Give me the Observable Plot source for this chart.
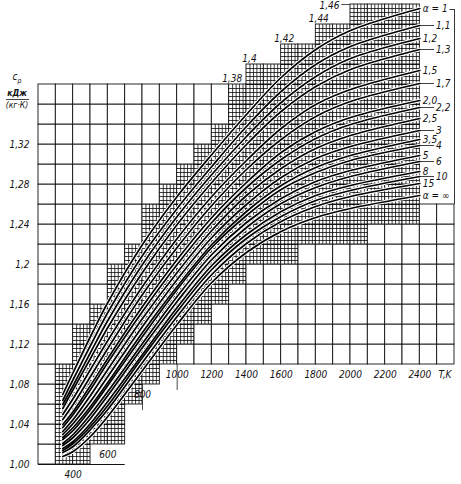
<!DOCTYPE html>
<html>
<head>
<meta charset="utf-8">
<script src="https://cdn.jsdelivr.net/npm/d3@7"></script>
<script src="https://cdn.jsdelivr.net/npm/@observablehq/plot@0.6"></script>
<style>
html,body{margin:0;padding:0;background:#fff;}
#chart svg{display:block;}
</style>
</head>
<body>
<div id="chart"></div>
<script>
// ---------- data ----------
const temps = [340, 400, 500, 600, 800, 1000, 1200, 1400, 1600, 1800, 2000, 2400];

const alphaLabels = ["α = 1","1,1","1,2","1,3","1,5","1,7","2,0","2,2","2,5","3","3,5","4","5","6","8","10","15","α = ∞"];

const cpAlpha1   = [1.070, 1.092, 1.128, 1.162, 1.220, 1.268, 1.310, 1.350, 1.387, 1.415, 1.434, 1.456];
const cpAlpha1_1 = [1.064, 1.085, 1.119, 1.152, 1.209, 1.256, 1.298, 1.338, 1.373, 1.400, 1.418, 1.439];
const cpAlpha1_2 = [1.060, 1.079, 1.112, 1.144, 1.200, 1.248, 1.290, 1.328, 1.362, 1.388, 1.406, 1.426];
const cpAlpha1_3 = [1.056, 1.075, 1.106, 1.137, 1.192, 1.240, 1.282, 1.320, 1.353, 1.378, 1.395, 1.415];
const cpAlpha1_5 = [1.050, 1.066, 1.095, 1.124, 1.178, 1.226, 1.268, 1.304, 1.336, 1.360, 1.375, 1.394];
const cpAlpha1_7 = [1.045, 1.060, 1.088, 1.116, 1.170, 1.217, 1.259, 1.295, 1.325, 1.348, 1.363, 1.381];
const cpAlpha2_0 = [1.040, 1.053, 1.079, 1.106, 1.158, 1.205, 1.247, 1.282, 1.312, 1.333, 1.347, 1.364];
const cpAlpha2_2 = [1.037, 1.050, 1.075, 1.102, 1.153, 1.200, 1.242, 1.277, 1.305, 1.326, 1.340, 1.357];
const cpAlpha2_5 = [1.033, 1.045, 1.069, 1.095, 1.146, 1.192, 1.234, 1.269, 1.296, 1.316, 1.329, 1.346];
const cpAlpha3   = [1.030, 1.041, 1.063, 1.088, 1.138, 1.185, 1.227, 1.260, 1.287, 1.306, 1.318, 1.334];
const cpAlpha3_5 = [1.027, 1.037, 1.058, 1.082, 1.132, 1.178, 1.220, 1.253, 1.279, 1.297, 1.309, 1.325];
const cpAlpha4   = [1.025, 1.034, 1.055, 1.079, 1.128, 1.175, 1.217, 1.249, 1.275, 1.292, 1.304, 1.319];
const cpAlpha5   = [1.021, 1.030, 1.050, 1.073, 1.121, 1.168, 1.210, 1.242, 1.266, 1.283, 1.294, 1.309];
const cpAlpha6   = [1.019, 1.027, 1.046, 1.069, 1.117, 1.163, 1.205, 1.237, 1.261, 1.277, 1.288, 1.303];
const cpAlpha8   = [1.016, 1.023, 1.041, 1.063, 1.110, 1.157, 1.199, 1.230, 1.253, 1.269, 1.279, 1.293];
const cpAlpha10  = [1.014, 1.021, 1.038, 1.059, 1.107, 1.153, 1.195, 1.226, 1.248, 1.264, 1.274, 1.288];
const cpAlpha15  = [1.012, 1.018, 1.035, 1.055, 1.102, 1.148, 1.190, 1.221, 1.243, 1.258, 1.268, 1.281];
const cpAlphaInf = [1.008, 1.013, 1.028, 1.048, 1.094, 1.140, 1.182, 1.212, 1.233, 1.247, 1.256, 1.269];

const cpSeries = [cpAlpha1, cpAlpha1_1, cpAlpha1_2, cpAlpha1_3, cpAlpha1_5, cpAlpha1_7, cpAlpha2_0, cpAlpha2_2,
  cpAlpha2_5, cpAlpha3, cpAlpha3_5, cpAlpha4, cpAlpha5, cpAlpha6, cpAlpha8, cpAlpha10, cpAlpha15, cpAlphaInf];

// main grid: 100 K columns, extent in cp
const gridT0 = [200,300,400,500,600,700,800,900,1000,1100,1200,1300,1400,1500,1600,1700,1800,1900,2000,2100,2200,2300,2400,2500];
const gridLo = [1.00,1.00,1.00,1.02,1.02,1.06,1.08,1.10,1.10,1.10,1.10,1.10,1.10,1.10,1.10,1.10,1.10,1.10,1.10,1.10,1.10,1.10,1.10,1.10];
const gridHi = [1.38,1.38,1.38,1.38,1.38,1.38,1.38,1.38,1.38,1.38,1.38,1.38,1.40,1.40,1.42,1.42,1.44,1.44,1.46,1.46,1.46,1.46,1.26,1.26];

// fine-meshed band
const hatchT0 = [300,400,500,600,700,800,900,1000,1100,1200,1300,1400,1500,1600,1700,1800,1900,2000,2100,2200,2300];
const hatchLo = [1.00,1.00,1.02,1.02,1.06,1.08,1.10,1.12,1.14,1.16,1.18,1.20,1.20,1.20,1.22,1.22,1.22,1.22,1.24,1.24,1.24];
const hatchHi = [1.10,1.14,1.16,1.20,1.22,1.26,1.28,1.30,1.32,1.34,1.38,1.40,1.40,1.42,1.42,1.44,1.44,1.46,1.46,1.46,1.46];

const yTickValues = [1.00, 1.04, 1.08, 1.12, 1.16, 1.20, 1.24, 1.28, 1.32];
const yTickLabels = ["1,00","1,04","1,08","1,12","1,16","1,2","1,24","1,28","1,32"];
const topTickValues = [1.38, 1.40, 1.42, 1.44, 1.46];
const topTickLabels = ["1,38","1,4","1,42","1,44","1,46"];
const xTickValues = [400, 600, 800, 1000, 1200, 1400, 1600, 1800, 2000, 2200, 2400];
const xTickLabels = ["400","600","800","1000","1200","1400","1600","1800","2000","2200","2400"];

// ---------- derived tables ----------
const FONT = "'DejaVu Sans Condensed','DejaVu Sans',sans-serif";
const EPS = 1e-9;
const r2 = v => Math.round(v * 1000) / 1000;

const cells = [];
gridT0.forEach((t, i) => {
  const j = hatchT0.indexOf(t);
  for (let c = gridLo[i]; c < gridHi[i] - EPS; c = r2(c + 0.02)) {
    const y1 = r2(c), y2 = r2(c + 0.02);
    const hatched = j >= 0 && y1 >= hatchLo[j] - EPS && y2 <= hatchHi[j] + EPS;
    cells.push({x1: t, x2: t + 100, y1, y2, hatched});
  }
});

const meshV = [], meshH = [];
hatchT0.forEach((t, j) => {
  const lo = hatchLo[j], hi = hatchHi[j];
  for (let k = 1; k < 5; k++) meshV.push({x: t + k * 20, y1: lo, y2: hi});
  const n = Math.round((hi - lo) / 0.004);
  for (let k = 1; k < n; k++) meshH.push({y: lo + k * 0.004, x1: t, x2: t + 100});
});

const curveRows = [];
cpSeries.forEach((vals, i) => vals.forEach((cp, k) => curveRows.push({alpha: alphaLabels[i], T: temps[k], cp})));

const lastT = temps[temps.length - 1];
const labelRows = cpSeries.map((vals, i) => ({text: alphaLabels[i], cp: vals[vals.length - 1], off: i % 2 === 1 && i < cpSeries.length - 1}));
const offLabels = labelRows.filter(d => d.off);
const onLabels = labelRows.filter(d => !d.off);

const loAt = t => gridLo[gridT0.indexOf(t)];
const xTicks = xTickValues.map((v, i) => ({T: v, cp: loAt(v), text: xTickLabels[i]}));
const stepT = v => hatchT0[hatchHi.findIndex(h => h >= v - EPS)];
const topTicks = topTickValues.map((v, i) => ({cp: v, T: stepT(v), text: topTickLabels[i], i}));

const rightT = gridT0[gridT0.length - 1] + 100;
const stripLo = gridHi[gridHi.length - 1];
const stripHi = d3.max(hatchHi);

const textStyle = {fontFamily: FONT, fontStyle: "italic", fontSize: 10, fill: "#111"};

const chart = Plot.plot({
  width: 461, height: 484,
  marginLeft: 38, marginRight: 7, marginTop: 4, marginBottom: 20,
  x: {domain: [200, 2600], axis: null},
  y: {domain: [1.00, 1.46], axis: null},
  style: {background: "white", overflow: "visible"},
  marks: [
    Plot.rect(cells, {x1: "x1", x2: "x2", y1: "y1", y2: "y2", fill: "white", stroke: "#111", strokeWidth: 0.9}),
    Plot.ruleX(meshV, {x: "x", y1: "y1", y2: "y2", stroke: "#000", strokeWidth: 0.75}),
    Plot.ruleY(meshH, {y: "y", x1: "x1", x2: "x2", stroke: "#000", strokeWidth: 0.75}),
    // bottom axis line of the left part
    Plot.ruleY([1.00], {x1: 200, x2: 700, stroke: "#111", strokeWidth: 1.1}),
    // tick extensions below the grid at 800 and 1000
    Plot.ruleX([800, 1000], {x: d => d, y1: d => loAt(d) - 0.026, y2: d => loAt(d), stroke: "#222", strokeWidth: 0.8}),
    // right border of the label strip
    Plot.ruleX([rightT], {y1: stripLo, y2: stripHi - 0.005, stroke: "#222", strokeWidth: 0.9}),
    Plot.ruleY([stripHi - 0.005], {x1: rightT - 25, x2: rightT, stroke: "#222", strokeWidth: 0.9}),
    // curves
    Plot.line(curveRows, {x: "T", y: "cp", z: "alpha", curve: "catmull-rom", stroke: "white", strokeWidth: 3.6}),
    Plot.line(curveRows, {x: "T", y: "cp", z: "alpha", curve: "catmull-rom", stroke: "#000", strokeWidth: 1.7}),
    // leader lines
    Plot.link(offLabels, {x1: lastT, x2: lastT + 82, y1: "cp", y2: "cp", stroke: "#111", strokeWidth: 0.8}),
    // curve labels
    Plot.text(onLabels, {x: lastT, y: "cp", text: "text", textAnchor: "start", dx: 3, ...textStyle}),
    Plot.text(offLabels, {x: lastT + 82, y: "cp", text: "text", textAnchor: "start", dx: 2, ...textStyle}),
    // y tick labels
    Plot.text(yTickValues, {x: 200, y: d => d, text: (d, i) => yTickLabels[i], textAnchor: "end", dx: -9, ...textStyle}),
    // labels along the top staircase
    Plot.text(topTicks.filter(d => d.i < 4), {x: "T", y: "cp", text: "text", textAnchor: "middle", dx: 3, dy: -6, ...textStyle}),
    Plot.text(topTicks.filter(d => d.i === 4), {x: "T", y: "cp", text: "text", textAnchor: "end", dx: -11, dy: 1, ...textStyle}),
    Plot.ruleY(topTicks.filter(d => d.i === 4), {y: "cp", x1: d => d.T - 50, x2: "T", stroke: "#222", strokeWidth: 0.8}),
    // x tick labels
    Plot.text(xTicks, {x: "T", y: "cp", text: "text", textAnchor: "middle", dy: 10, ...textStyle}),
    Plot.text(["T,K"], {x: rightT, y: 1.10, text: d => d, textAnchor: "end", dx: -3, dy: 10, ...textStyle})
  ]
});

document.getElementById("chart").appendChild(chart);

// y-axis title
const g = d3.select(chart).append("g")
  .attr("font-family", FONT).attr("font-style", "italic").attr("fill", "#111").attr("text-anchor", "middle");
const t1 = g.append("text").attr("x", 17).attr("y", 80).attr("font-size", 10).text("c");
t1.append("tspan").attr("dy", 3).attr("font-size", 7).text("p");
g.append("text").attr("x", 17).attr("y", 96).attr("font-size", 8.5).attr("font-weight", "bold").text("кДж");
g.append("line").attr("x1", 6).attr("x2", 29).attr("y1", 99.5).attr("y2", 99.5).attr("stroke", "#111").attr("stroke-width", 0.8);
g.append("text").attr("x", 17).attr("y", 108).attr("font-size", 8.5).text("(кг·К)");
</script>
</body>
</html>
